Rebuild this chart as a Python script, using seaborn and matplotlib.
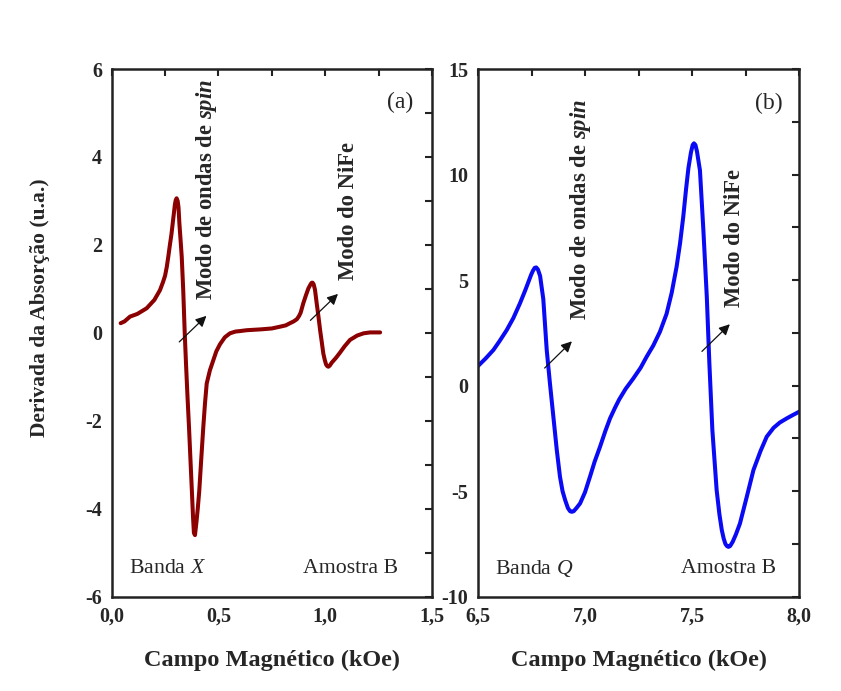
import numpy as np
import pandas as pd
import matplotlib
matplotlib.use("Agg")
import matplotlib.pyplot as plt
from matplotlib.ticker import MultipleLocator, FuncFormatter
import seaborn as sns

# ---------------- data ----------------
field_a = [0.042, 0.06, 0.086, 0.12, 0.164, 0.2, 0.226, 0.24, 0.25, 0.258, 0.265, 0.272,
           0.28, 0.286, 0.292, 0.296, 0.3, 0.304, 0.309, 0.313, 0.317, 0.322, 0.328, 0.335,
           0.342, 0.348, 0.355, 0.362, 0.369, 0.376, 0.381, 0.385, 0.39, 0.397, 0.403, 0.41,
           0.419, 0.429, 0.437, 0.445, 0.46, 0.476, 0.49, 0.507, 0.53, 0.554, 0.58, 0.6,
           0.632, 0.7, 0.75, 0.788, 0.815, 0.835, 0.852, 0.867, 0.877, 0.885, 0.897, 0.91,
           0.921, 0.932, 0.937, 0.941, 0.946, 0.952, 0.96, 0.968, 0.976, 0.984, 0.991, 0.998,
           1.004, 1.01, 1.015, 1.022, 1.03, 1.05, 1.069, 1.09, 1.116, 1.15, 1.18, 1.21, 1.257]
deriv_a = [0.22, 0.26, 0.37, 0.43, 0.56, 0.75, 0.97, 1.15, 1.3, 1.5, 1.73, 1.98,
           2.25, 2.5, 2.75, 2.92, 3.02, 3.06, 3.0, 2.85, 2.49, 2.15, 1.73, 0.97,
           0.0, -0.7, -1.45, -2.14, -2.9, -3.65, -4.2, -4.55, -4.6, -4.3, -4.0, -3.6,
           -2.9, -2.14, -1.6, -1.15, -0.85, -0.62, -0.42, -0.26, -0.1, -0.01, 0.03, 0.04,
           0.06, 0.08, 0.1, 0.14, 0.17, 0.22, 0.26, 0.31, 0.38, 0.46, 0.67, 0.86,
           1.01, 1.11, 1.14, 1.14, 1.1, 0.98, 0.67, 0.38, 0.06, -0.22, -0.47, -0.62,
           -0.72, -0.76, -0.77, -0.74, -0.68, -0.57, -0.45, -0.31, -0.16, -0.06, -0.01, 0.01, 0.01]

field_b = [6.5, 6.535, 6.572, 6.6, 6.634, 6.665, 6.696, 6.72, 6.735, 6.748, 6.757, 6.765,
           6.772, 6.78, 6.79, 6.805, 6.821, 6.836, 6.852, 6.868, 6.883, 6.895, 6.907, 6.92,
           6.93, 6.938, 6.947, 6.96, 6.977, 7.0, 7.023, 7.045, 7.07, 7.095, 7.117, 7.14,
           7.16, 7.19, 7.225, 7.26, 7.288, 7.319, 7.35, 7.381, 7.405, 7.428, 7.444, 7.459,
           7.472, 7.483, 7.495, 7.503, 7.509, 7.516, 7.523, 7.537, 7.553, 7.569, 7.581, 7.595,
           7.615, 7.628, 7.639, 7.648, 7.656, 7.663, 7.67, 7.678, 7.69, 7.705, 7.724, 7.755,
           7.787, 7.82, 7.849, 7.881, 7.91, 7.943, 7.97, 8.0]
deriv_b = [0.93, 1.28, 1.69, 2.1, 2.63, 3.2, 3.9, 4.5, 4.9, 5.25, 5.45, 5.58,
           5.6, 5.5, 5.2, 4.1, 1.69, 0.11, -1.47, -3.05, -4.32, -5.0, -5.42, -5.8,
           -5.95, -5.98, -5.95, -5.8, -5.58, -5.05, -4.32, -3.6, -2.9, -2.15, -1.55, -1.05,
           -0.65, -0.15, 0.33, 0.85, 1.37, 1.9, 2.55, 3.4, 4.4, 5.64, 6.74, 8.0,
           9.3, 10.3, 11.05, 11.4, 11.48, 11.4, 11.1, 10.2, 7.37, 4.21, 1.06, -2.1,
           -4.95, -6.1, -6.84, -7.25, -7.5, -7.6, -7.64, -7.6, -7.4, -7.05, -6.53, -5.3,
           -4.0, -3.1, -2.42, -2.0, -1.75, -1.55, -1.4, -1.24]

xlim_a, ylim_a = (0.0, 1.5), (-6, 6)
xlim_b, ylim_b = (6.5, 8.0), (-10, 15)
panel_tags = ["(a)", "(b)"]
band_labels = [r"Banda $\mathit{X}$", r"Banda $\mathit{Q}$"]
sample_label = "Amostra B"
spin_label = r"Modo de ondas de $\mathbfit{spin}$"
nife_label = "Modo do NiFe"
xlabel = "Campo Magnético (kOe)"
ylabel = "Derivada da Absorção (u.a.)"

df_a = pd.DataFrame({"campo": field_a, "deriv": deriv_a})
df_b = pd.DataFrame({"campo": field_b, "deriv": deriv_b})

# ---------------- style ----------------
sns.set_style("white")
plt.rcParams["font.family"] = ["Liberation Serif", "DejaVu Serif"]
plt.rcParams["font.weight"] = "bold"
plt.rcParams["mathtext.fontset"] = "custom"
plt.rcParams["mathtext.rm"] = "Liberation Serif:weight=normal"
plt.rcParams["mathtext.it"] = "Liberation Serif:style=italic:weight=normal"
plt.rcParams["mathtext.bf"] = "Liberation Serif:weight=bold"
plt.rcParams["mathtext.bfit"] = "Liberation Serif:style=italic:weight=bold"
plt.rcParams["axes.unicode_minus"] = False

fig = plt.figure(figsize=(8.41, 6.91), dpi=100)
fig.patch.set_facecolor("white")
ax_a = fig.add_axes([0.1328, 0.1365, 0.3809, 0.7636])
ax_b = fig.add_axes([0.5684, 0.1365, 0.3817, 0.7636])

sns.lineplot(data=df_a, x="campo", y="deriv", ax=ax_a, color="#8B0000",
             linewidth=2.9, sort=False, estimator=None)
sns.lineplot(data=df_b, x="campo", y="deriv", ax=ax_b, color="#0A0AF5",
             linewidth=2.9, sort=False, estimator=None)
for ax in (ax_a, ax_b):
    for ln in ax.get_lines():
        ln.set_solid_joinstyle("round")
        ln.set_solid_capstyle("round")

comma = FuncFormatter(lambda v, p: f"{v:.1f}".replace(".", ","))
intfmt = FuncFormatter(lambda v, p: f"{v:.0f}")

for ax, xl, yl, xmaj, xmin, ymaj, ymin in [
        (ax_a, xlim_a, ylim_a, 0.5, 0.25, 2, 1),
        (ax_b, xlim_b, ylim_b, 0.5, 0.25, 5, 2.5)]:
    ax.set_xlim(*xl)
    ax.set_ylim(*yl)
    ax.xaxis.set_major_locator(MultipleLocator(xmaj))
    ax.xaxis.set_minor_locator(MultipleLocator(xmin))
    ax.yaxis.set_major_locator(MultipleLocator(ymaj))
    ax.yaxis.set_minor_locator(MultipleLocator(ymin))
    ax.xaxis.set_major_formatter(comma)
    ax.yaxis.set_major_formatter(intfmt)
    ax.tick_params(which="both", direction="in", top=True, right=True,
                   length=5, width=1.5, color="#222222")
    ax.tick_params(which="major", labelsize=14.5, pad=7)
    for s in ax.spines.values():
        s.set_linewidth(1.8)
        s.set_color("#222222")
    ax.set_xlabel(xlabel, fontsize=17.5, fontweight="bold", va="center")
    ax.xaxis.set_label_coords(0.5, -0.12)
    ax.set_ylabel("")

fig.text(0.0476, 0.554, ylabel, rotation=90, ha="center", va="center",
         fontsize=15.5, fontweight="bold")

# panel tags and labels
reg = dict(fontsize=15.7, fontweight="normal")
ax_a.text(0.94, 0.937, panel_tags[0], transform=ax_a.transAxes, ha="right", va="center",
          fontsize=17, fontweight="normal")
ax_b.text(0.95, 0.935, panel_tags[1], transform=ax_b.transAxes, ha="right", va="center",
          fontsize=17, fontweight="normal")
ax_a.text(0.054, 0.054, band_labels[0], transform=ax_a.transAxes, ha="left", va="center", **reg)
ax_b.text(0.053, 0.054, band_labels[1], transform=ax_b.transAxes, ha="left", va="center", **reg)
ax_a.text(0.894, 0.054, sample_label, transform=ax_a.transAxes, ha="right", va="center", **reg)
ax_b.text(0.93, 0.054, sample_label, transform=ax_b.transAxes, ha="right", va="center", **reg)

# rotated mode labels
rot = dict(rotation=90, ha="center", va="bottom", fontsize=16.3, fontweight="bold")
ax_a.text(0.445, 0.75, spin_label, **rot)
ax_a.text(1.107, 1.2, nife_label, **rot)
ax_b.text(6.977, 3.11, spin_label, **rot)
ax_b.text(7.70, 3.74, nife_label, **rot)

arrow_kw = dict(arrowstyle="-|>", color="#111111", lw=0.9, mutation_scale=16)
ax_a.annotate("", xy=(0.453, 0.43), xytext=(0.307, -0.25), arrowprops=arrow_kw)
ax_a.annotate("", xy=(1.069, 0.93), xytext=(0.921, 0.24), arrowprops=arrow_kw)
ax_b.annotate("", xy=(6.948, 2.19), xytext=(6.802, 0.74), arrowprops=arrow_kw)
ax_b.annotate("", xy=(7.686, 3.0), xytext=(7.537, 1.53), arrowprops=arrow_kw)

fig.savefig("out.png", dpi=100, facecolor="white")
